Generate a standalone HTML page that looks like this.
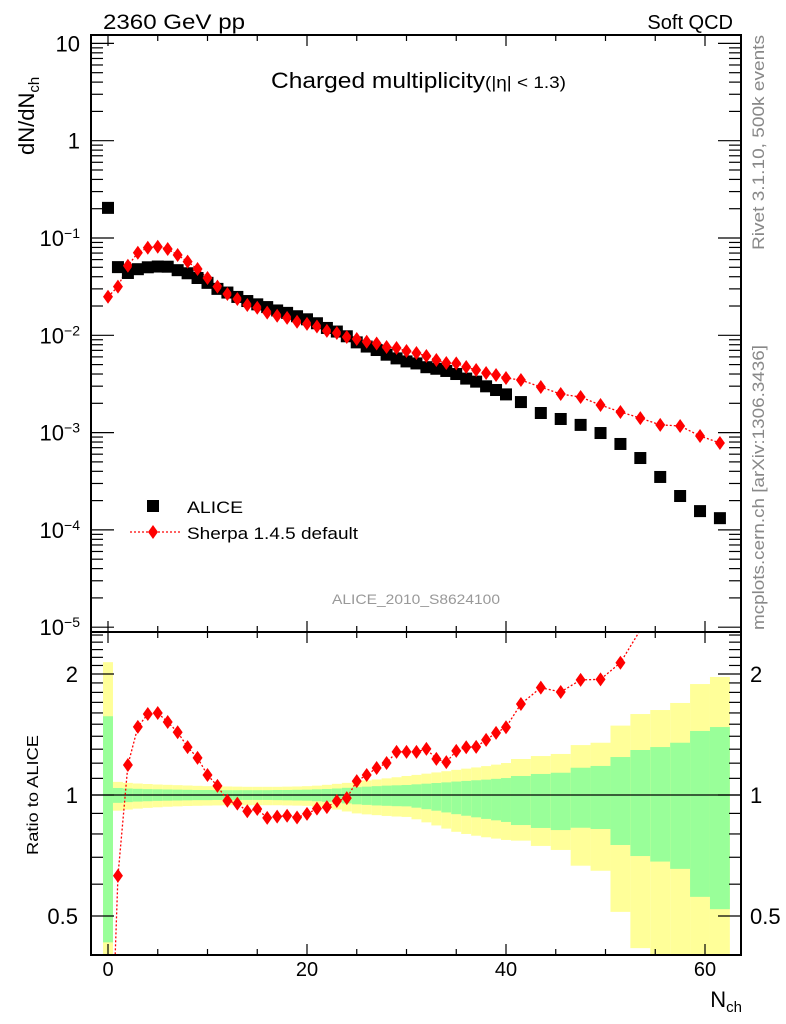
<!DOCTYPE html>
<html><head><meta charset="utf-8">
<style>
html,body{margin:0;background:#fff;overflow:hidden;width:786px;height:1024px;}
svg{display:block;font-family:"Liberation Sans",sans-serif;}
</style></head>
<body>
<svg id="chart" width="786" height="1024" viewBox="0 0 786 1024" xmlns="http://www.w3.org/2000/svg">
<g id="bands"></g>
<g id="marks"></g>
<g id="axes"></g>
<text x="103" y="29" font-size="21" textLength="142" lengthAdjust="spacingAndGlyphs">2360 GeV pp</text>
<text x="733" y="29" font-size="20" text-anchor="end">Soft QCD</text>
<text x="271" y="88" font-size="22" textLength="295" lengthAdjust="spacingAndGlyphs">Charged multiplicity<tspan font-size="17">(|η| &lt; 1.3)</tspan></text>
<text transform="translate(34,155) rotate(-90)" font-size="22">dN/dN<tspan font-size="15" dy="5">ch</tspan></text>
<text transform="translate(38,795) rotate(-90)" font-size="16" text-anchor="middle" textLength="120" lengthAdjust="spacingAndGlyphs">Ratio to ALICE</text>
<text x="742" y="1007" font-size="22" text-anchor="end">N<tspan font-size="15" dy="5">ch</tspan></text>
<text transform="translate(764,250) rotate(-90)" font-size="17" fill="#888" textLength="215" lengthAdjust="spacingAndGlyphs">Rivet 3.1.10,  500k events</text>
<text transform="translate(764,630) rotate(-90)" font-size="17" fill="#888" textLength="285" lengthAdjust="spacingAndGlyphs">mcplots.cern.ch [arXiv:1306.3436]</text>
<text x="332" y="604" font-size="14" fill="#999" textLength="168" lengthAdjust="spacingAndGlyphs">ALICE_2010_S8624100</text>
<g>
<rect x="147" y="500" width="12" height="12" fill="#000"/>
<text x="187" y="513" font-size="17" textLength="56" lengthAdjust="spacingAndGlyphs">ALICE</text>
<line x1="130" y1="532" x2="180" y2="532" stroke="#f00" stroke-width="1.3" stroke-dasharray="2,2"/>
<path d="M153,525 L158,532 L153,539 L148,532Z" fill="#f00"/>
<text x="187" y="539" font-size="17" textLength="171" lengthAdjust="spacingAndGlyphs">Sherpa 1.4.5 default</text>
</g>
</svg>
<script>
// ---- data ----
const binN = [0,1,2,3,4,5,6,7,8,9,10,11,12,13,14,15,16,17,18,19,20,21,22,23,24,25,26,27,28,29,30,31,32,33,34,35,36,37,38,39,40,41.5,43.5,45.5,47.5,49.5,51.5,53.5,55.5,57.5,59.5,61.5];
const binLo = [-0.5,0.5,1.5,2.5,3.5,4.5,5.5,6.5,7.5,8.5,9.5,10.5,11.5,12.5,13.5,14.5,15.5,16.5,17.5,18.5,19.5,20.5,21.5,22.5,23.5,24.5,25.5,26.5,27.5,28.5,29.5,30.5,31.5,32.5,33.5,34.5,35.5,36.5,37.5,38.5,39.5,40.5,42.5,44.5,46.5,48.5,50.5,52.5,54.5,56.5,58.5,60.5];
const binHi = [0.5,1.5,2.5,3.5,4.5,5.5,6.5,7.5,8.5,9.5,10.5,11.5,12.5,13.5,14.5,15.5,16.5,17.5,18.5,19.5,20.5,21.5,22.5,23.5,24.5,25.5,26.5,27.5,28.5,29.5,30.5,31.5,32.5,33.5,34.5,35.5,36.5,37.5,38.5,39.5,40.5,42.5,44.5,46.5,48.5,50.5,52.5,54.5,56.5,58.5,60.5,62.5];
const aliceValues = [0.204,0.0502,0.0437,0.0478,0.0500,0.0509,0.0507,0.0467,0.0434,0.0388,0.0346,0.0300,0.0275,0.0248,0.0225,0.0208,0.0195,0.0180,0.0170,0.0157,0.0146,0.0133,0.0119,0.01093,0.00977,0.00846,0.00766,0.00706,0.00632,0.00579,0.00539,0.00514,0.00470,0.00453,0.00430,0.00400,0.00359,0.00334,0.00299,0.00274,0.00247,0.00206,0.00159,0.00138,0.00120,0.00099,0.000764,0.000548,0.000350,0.000223,0.000156,0.000132];
const sherpaValues = [0.0249,0.0316,0.0519,0.0706,0.0795,0.0814,0.0770,0.0669,0.0571,0.0480,0.0388,0.0316,0.0266,0.0236,0.0205,0.0192,0.0171,0.0159,0.0151,0.0138,0.0131,0.0123,0.0111,0.01056,0.0096,0.00916,0.00859,0.00824,0.00759,0.00741,0.00690,0.00658,0.00612,0.00557,0.00519,0.00515,0.00472,0.00440,0.00410,0.00391,0.00364,0.00347,0.00294,0.00249,0.00232,0.00192,0.00163,0.00141,0.00120,0.00117,0.000923,0.000782];
const totalUp = [2.14,1.078,1.072,1.068,1.065,1.062,1.060,1.058,1.056,1.054,1.052,1.051,1.050,1.049,1.048,1.048,1.048,1.048,1.049,1.050,1.052,1.055,1.060,1.066,1.072,1.080,1.087,1.093,1.100,1.107,1.115,1.122,1.130,1.138,1.146,1.155,1.163,1.171,1.180,1.190,1.201,1.229,1.250,1.265,1.331,1.349,1.488,1.590,1.627,1.694,1.888,1.966];
const statUp = [1.57,1.041,1.038,1.036,1.034,1.033,1.032,1.031,1.030,1.029,1.029,1.028,1.028,1.028,1.028,1.028,1.028,1.029,1.029,1.030,1.031,1.033,1.035,1.038,1.042,1.046,1.049,1.052,1.055,1.057,1.059,1.063,1.067,1.071,1.075,1.080,1.084,1.088,1.092,1.097,1.102,1.115,1.128,1.136,1.169,1.181,1.243,1.294,1.316,1.349,1.443,1.476];
const statDown = [0.43,0.956,0.960,0.963,0.965,0.967,0.968,0.969,0.970,0.971,0.971,0.972,0.972,0.972,0.972,0.972,0.972,0.971,0.970,0.969,0.968,0.965,0.962,0.958,0.953,0.948,0.945,0.942,0.940,0.938,0.937,0.930,0.922,0.914,0.905,0.896,0.888,0.880,0.872,0.865,0.857,0.842,0.828,0.818,0.829,0.823,0.751,0.705,0.683,0.655,0.558,0.520];
const totalDown = [0.30,0.914,0.920,0.925,0.929,0.932,0.935,0.937,0.939,0.940,0.941,0.942,0.943,0.943,0.943,0.943,0.943,0.943,0.942,0.941,0.940,0.935,0.928,0.920,0.910,0.900,0.895,0.891,0.887,0.884,0.882,0.870,0.855,0.840,0.825,0.810,0.800,0.792,0.785,0.779,0.773,0.770,0.747,0.730,0.667,0.648,0.512,0.416,0.30,0.30,0.30,0.30];
const xTicks = [0,20,40,60];
const mainTicks = [10,1,0.1,0.01,0.001,0.0001,0.00001];
const mainTickLabels = ["10","1","10<tspan dy='-8' font-size='14'>−1</tspan>","10<tspan dy='-8' font-size='14'>−2</tspan>","10<tspan dy='-8' font-size='14'>−3</tspan>","10<tspan dy='-8' font-size='14'>−4</tspan>","10<tspan dy='-8' font-size='14'>−5</tspan>"];
const ratioTicks = [0.5,1,2];
const ratioTickLabels = ["0.5","1","2"];

// ---- geometry ----
const L=91,R=741,T=35,MB=632,RB=955;
const X = n => 108 + 9.95*n;
const Ym = v => 238 - 97.3*Math.log10(v/0.1);
const Yr = r => 795 - 402*Math.log10(r);
const NS="http://www.w3.org/2000/svg";
function mk(tag, attrs, parent){const e=document.createElementNS(NS,tag);for(const k in attrs)e.setAttribute(k,attrs[k]);parent.appendChild(e);return e;}
const bands=document.getElementById('bands'), marks=document.getElementById('marks'), axes=document.getElementById('axes');
const clampR = y => Math.max(MB, Math.min(RB, y));

for(let i=0;i<binN.length;i++){
  const x1=X(binLo[i]), x2=X(binHi[i]);
  const yb=mk('rect',{x:x1,y:clampR(Yr(totalUp[i])),width:x2-x1,height:clampR(Yr(totalDown[i]))-clampR(Yr(totalUp[i])),fill:'#ffff99'},bands);
  
  
  const gb=mk('rect',{x:x1,y:clampR(Yr(statUp[i])),width:x2-x1,height:clampR(Yr(statDown[i]))-clampR(Yr(statUp[i])),fill:'#99ff99'},bands);
  
  
}
const one=mk('line',{x1:L,x2:R,y1:Yr(1),y2:Yr(1),stroke:'#000','stroke-width':1.2},bands);



let d='';
binN.forEach((n,i)=>{d+=(i?'L':'M')+X(n)+','+Ym(sherpaValues[i]);});
const sl=mk('path',{d:d,fill:'none',stroke:'#f00','stroke-width':1.3,'stroke-dasharray':'2,2'},marks);


const clip=mk('clipPath',{id:'rc'},marks);
mk('rect',{x:L,y:MB,width:R-L,height:RB-MB},clip);
const rg=mk('g',{'clip-path':'url(#rc)'},marks);


d='';
binN.forEach((n,i)=>{d+=(i?'L':'M')+X(n)+','+Yr(sherpaValues[i]/aliceValues[i]);});
const rl=mk('path',{d:d,fill:'none',stroke:'#f00','stroke-width':1.3,'stroke-dasharray':'2,2'},rg);



binN.forEach((n,i)=>{
  const x=X(n);
  const sq=mk('rect',{x:x-6,y:Ym(aliceValues[i])-6,width:12,height:12,fill:'#000'},marks);
  
  
  const y=Ym(sherpaValues[i]);
  const dm=mk('path',{d:`M${x},${y-7}L${x+5},${y}L${x},${y+7}L${x-5},${y}Z`,fill:'#f00'},marks);
  
  
  const r=sherpaValues[i]/aliceValues[i], yr=Yr(r);
  if(yr>MB+2 && yr<RB-2){
    const rd=mk('path',{d:`M${x},${yr-7}L${x+5},${yr}L${x},${yr+7}L${x-5},${yr}Z`,fill:'#f00'},rg);
    
    
  }
});

[[T,MB],[MB,RB]].forEach(([a,b],k)=>{
  const f=mk('rect',{x:L,y:a,width:R-L,height:b-a,fill:'none',stroke:'#000','stroke-width':2},axes);
  
  
  for(let n=0;n<=60;n+=5){
    const len = n%20===0?11:6;
    mk('line',{x1:X(n),x2:X(n),y1:a,y2:a+len,stroke:'#000','stroke-width':1.2},axes);
    mk('line',{x1:X(n),x2:X(n),y1:b,y2:b-len,stroke:'#000','stroke-width':1.2},axes);
  }
});
xTicks.forEach(n=>{
  const t=mk('text',{x:X(n),y:976,'font-size':20,'text-anchor':'middle'},axes);
  t.textContent=n;
  
  
});
for(let e=-5;e<=1;e++){
  for(let m=1;m<=9;m++){
    const v=m*Math.pow(10,e), y=Ym(v);
    if(y<T-0.5||y>MB+0.5) continue;
    const len=m===1?23:12;
    mk('line',{x1:L,x2:L+len,y1:y,y2:y,stroke:'#000','stroke-width':1.2},axes);
    mk('line',{x1:R,x2:R-len,y1:y,y2:y,stroke:'#000','stroke-width':1.2},axes);
  }
}
mainTicks.forEach((v,i)=>{
  const t=mk('text',{x:80,y:Ym(v)+8,'font-size':22,'text-anchor':'end'},axes);
  t.innerHTML=mainTickLabels[i];
  
  
});
for(let v=0.4;v<=2.55;v+=0.1){
  const y=Yr(v); if(y<MB||y>RB) continue;
  const major=Math.abs(v-0.5)<1e-6||Math.abs(v-1)<1e-6||Math.abs(v-2)<1e-6;
  const len=major?23:12;
  mk('line',{x1:L,x2:L+len,y1:y,y2:y,stroke:'#000','stroke-width':1.2},axes);
  mk('line',{x1:R,x2:R-len,y1:y,y2:y,stroke:'#000','stroke-width':1.2},axes);
}
ratioTicks.forEach((v,i)=>{
  const t=mk('text',{x:78,y:Yr(v)+8,'font-size':22,'text-anchor':'end'},axes);
  t.textContent=ratioTickLabels[i];
  
  
  const t2=mk('text',{x:750,y:Yr(v)+8,'font-size':22},axes);
  t2.textContent=ratioTickLabels[i];
  
  
});
</script>
</body></html>
